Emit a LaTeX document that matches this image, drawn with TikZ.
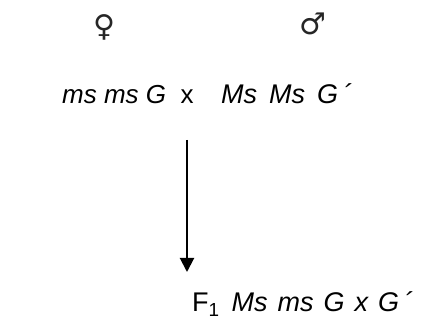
\documentclass[tikz,border=0pt]{standalone}
\usepackage{fontspec}
\setmainfont{Liberation Sans}
\newfontfamily\symfont{DejaVu Sans}
\usetikzlibrary{arrows.meta}
\newcommand{\gp}[1]{\hspace*{#1pt}}
\tikzset{
  lbl/.style={inner sep=0pt, font=\fontsize{26}{30}\selectfont},
  lblb/.style={inner sep=0pt, font=\fontsize{27}{31}\selectfont},
  sym/.style={inner sep=0pt, font=\symfont\fontsize{30}{36}\selectfont, text=black!85},
  cross arrow/.style={line width=2pt, -{Triangle[width=14pt,length=14pt]}}
}
\begin{document}
\begin{tikzpicture}[x=1pt,y=-1pt]
\useasboundingbox (0,0) rectangle (436,336);
\node[sym] (fem) at (104,27) {♀};
\node[sym] (male) at (313,24) {♂};
\node[lbl, anchor=base west] (mother) at (62,104) {\textit{ms ms G}};
\node[lbl, anchor=base] (cross) at (187,104) {x};
\node[lblb, anchor=base west] (father) at (221,104) {\textit{Ms\gp{12}Ms\gp{12}G\gp{5}´}};
\node[lblb, anchor=base west] (f1) at (192,312) {F\textsubscript{1}\gp{12}\textit{Ms\gp{10}ms\gp{10}G\gp{10}x\gp{10}G\gp{5}´}};
\coordinate (top) at (187,140);
\coordinate (tip) at (187,272);
\draw[cross arrow] (top) -- (tip);
\end{tikzpicture}
\end{document}
